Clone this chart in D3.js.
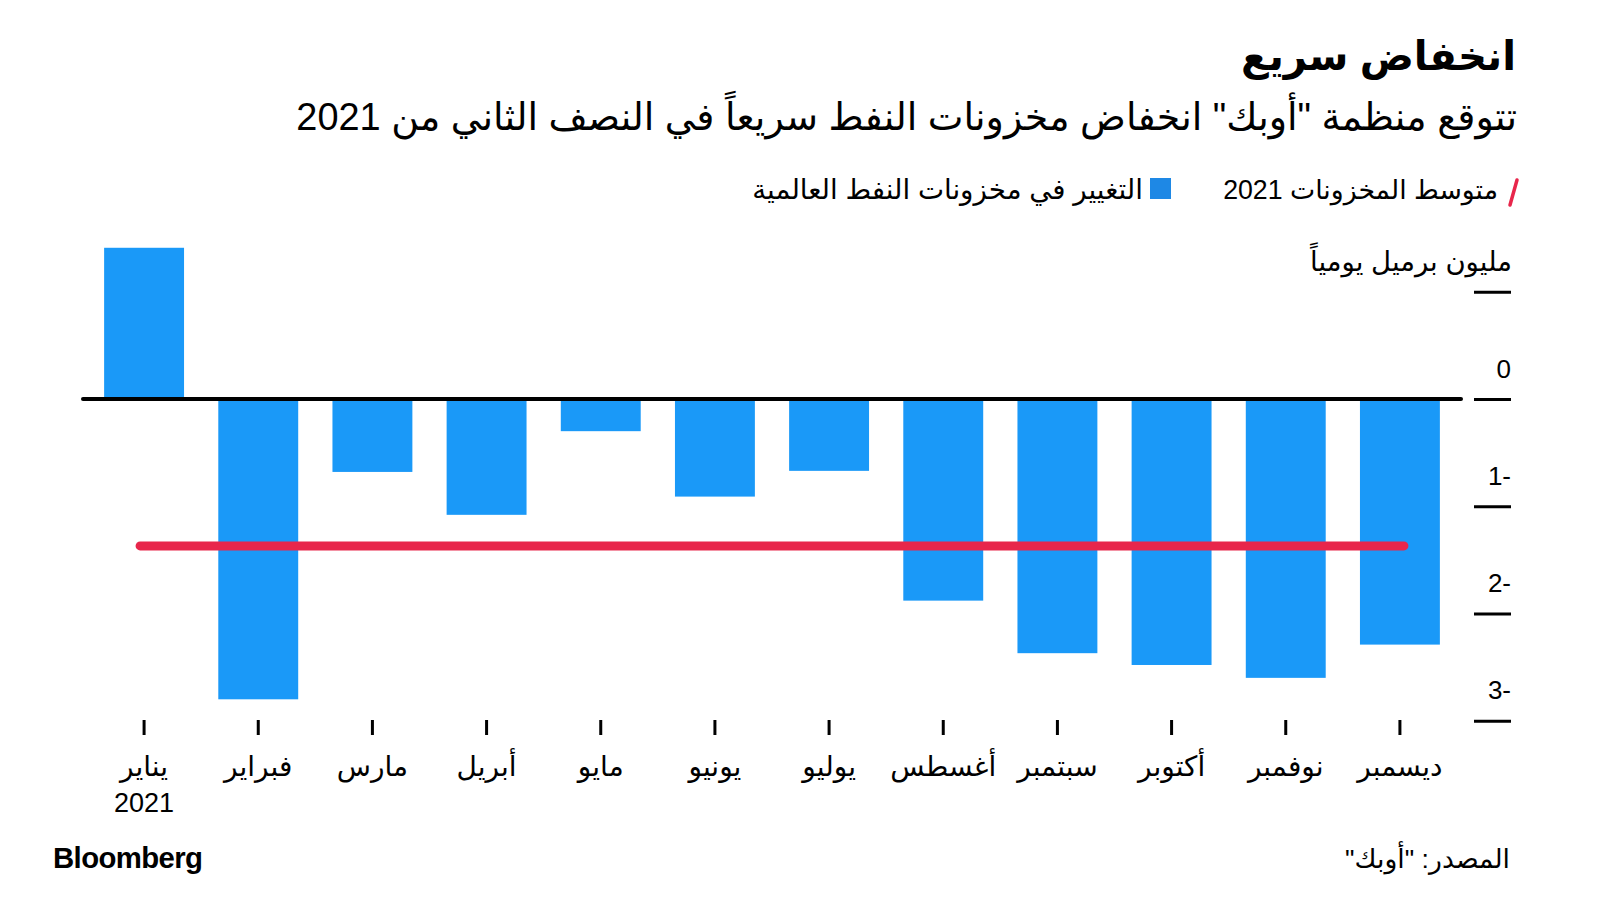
<!DOCTYPE html>
<html>
<head>
<meta charset="utf-8">
<script src="https://cdn.jsdelivr.net/npm/d3@7"></script>
<style>
  html, body { margin: 0; padding: 0; background: #fff; }
  svg { display: block; }
  text { font-family: "Liberation Sans", "DejaVu Sans", sans-serif; fill: #000; }
</style>
</head>
<body>
<svg id="chart" width="1600" height="900"></svg>
<script>
// ---------- data ----------
const months = ["يناير", "فبراير", "مارس", "أبريل", "مايو", "يونيو", "يوليو", "أغسطس", "سبتمبر", "أكتوبر", "نوفمبر", "ديسمبر"];
const stockChange = [1.41, -2.80, -0.68, -1.08, -0.30, -0.91, -0.67, -1.88, -2.37, -2.48, -2.60, -2.29];
const avgStock2021 = -1.37;
const yTickValues = [1, 0, -1, -2, -3];
const firstMonthYear = "2021";

const titleText = "انخفاض سريع";
const subtitleText = "تتوقع منظمة \"أوبك\" انخفاض مخزونات النفط سريعاً في النصف الثاني من 2021";
const legendAvg = "متوسط المخزونات 2021";
const legendBars = "التغيير في مخزونات النفط العالمية";
const unitLabel = "مليون برميل يومياً";
const sourceText = "المصدر: \"أوبك\"";
const brandText = "Bloomberg";

// ---------- setup ----------
const svg = d3.select("#chart");
const BAR = "#1a99f8", LEG_SQ = "#1e88e5", RED = "#e8264b";

function fitWidth(sel, target) {
  const node = sel.node();
  const fs = parseFloat(sel.attr("font-size"));
  const w = node.getComputedTextLength();
  if (w > 0) sel.attr("font-size", (fs * target / w).toFixed(2));
  return sel;
}

const x = d3.scaleBand().domain(months).range([87, 1457]).paddingInner(0.3).paddingOuter(0.15);
const y = d3.scaleLinear().domain([-3, 1]).range([720.75, 291.75]);

// ---------- titles ----------
fitWidth(svg.append("text").attr("x", 1516).attr("y", 70)
  .attr("direction", "rtl").attr("text-anchor", "start")
  .attr("font-size", 44).attr("font-weight", "bold").text(titleText), 275);

fitWidth(svg.append("text").attr("x", 1517).attr("y", 130)
  .attr("direction", "rtl").attr("text-anchor", "start")
  .attr("font-size", 33).text(subtitleText), 1221);

// ---------- legend ----------
svg.append("line").attr("x1", 1510).attr("y1", 205).attr("x2", 1517).attr("y2", 180)
  .attr("stroke", RED).attr("stroke-width", 3.5).attr("stroke-linecap", "round");
fitWidth(svg.append("text").attr("x", 1498).attr("y", 199)
  .attr("direction", "rtl").attr("text-anchor", "start")
  .attr("font-size", 24).text(legendAvg), 275);

svg.append("rect").attr("x", 1150).attr("y", 178).attr("width", 21).attr("height", 21).attr("fill", LEG_SQ);
fitWidth(svg.append("text").attr("x", 1143).attr("y", 199)
  .attr("direction", "rtl").attr("text-anchor", "start")
  .attr("font-size", 24).text(legendBars), 391);

// ---------- unit label ----------
fitWidth(svg.append("text").attr("x", 1512).attr("y", 271)
  .attr("direction", "rtl").attr("text-anchor", "start")
  .attr("font-size", 24).text(unitLabel), 202);

// ---------- bars ----------
svg.append("g").selectAll("rect").data(months).join("rect")
  .attr("x", d => x(d))
  .attr("width", x.bandwidth())
  .attr("y", (d, i) => y(Math.max(0, stockChange[i])))
  .attr("height", (d, i) => Math.abs(y(stockChange[i]) - y(0)))
  .attr("fill", BAR);

// ---------- zero line ----------
svg.append("line").attr("x1", x.range()[0] - 4).attr("x2", x.range()[1] + 4)
  .attr("y1", y(0)).attr("y2", y(0))
  .attr("stroke", "#000").attr("stroke-width", 4).attr("stroke-linecap", "round");

// ---------- average line ----------
svg.append("line")
  .attr("x1", x(months[0]) + x.bandwidth() / 2 - 4)
  .attr("x2", x(months[months.length - 1]) + x.bandwidth() / 2 + 4)
  .attr("y1", y(avgStock2021)).attr("y2", y(avgStock2021))
  .attr("stroke", RED).attr("stroke-width", 9).attr("stroke-linecap", "round");

// ---------- y axis ----------
const yAxis = d3.axisRight(y).tickValues(yTickValues).tickSize(37)
  .tickFormat(d => d === 1 ? "" : (d < 0 ? `${-d}-` : `${d}`));
const gy = svg.append("g").attr("transform", "translate(1474,0)").call(yAxis);
gy.select(".domain").remove();
gy.selectAll(".tick line").attr("stroke", "#000").attr("stroke-width", 3);
gy.selectAll(".tick text")
  .attr("x", 37).attr("dy", -22).attr("y", 0)
  .attr("text-anchor", "end")
  .attr("font-size", 26).attr("fill", "#000")
  .style("font-family", "'Liberation Sans', sans-serif");

// ---------- x axis ----------
const xAxis = d3.axisBottom(x).tickSize(15).tickSizeOuter(0);
const gx = svg.append("g").attr("transform", "translate(0,720)").call(xAxis);
gx.select(".domain").remove();
gx.selectAll(".tick line").attr("stroke", "#000").attr("stroke-width", 3);
gx.selectAll(".tick text")
  .attr("y", 0).attr("dy", 0)
  .attr("font-size", 28).attr("fill", "#000")
  .style("font-family", "'Liberation Sans', 'DejaVu Sans', sans-serif")
  .each(function (d, i) {
    const t = d3.select(this);
    t.text(null);
    t.append("tspan").attr("x", 0).attr("y", 56).text(d);
    if (i === 0) t.append("tspan").attr("x", 0).attr("y", 92).attr("font-size", 27).text(firstMonthYear);
  });

// ---------- footer ----------
fitWidth(svg.append("text").attr("x", 53).attr("y", 868)
  .attr("font-size", 27).attr("font-weight", "bold")
  .style("font-family", "'Liberation Sans', Arial, sans-serif")
  .attr("letter-spacing", -0.6).text(brandText), 149);

fitWidth(svg.append("text").attr("x", 1510).attr("y", 868)
  .attr("direction", "rtl").attr("text-anchor", "start")
  .attr("font-size", 24).text(sourceText), 165);
</script>
</body>
</html>
